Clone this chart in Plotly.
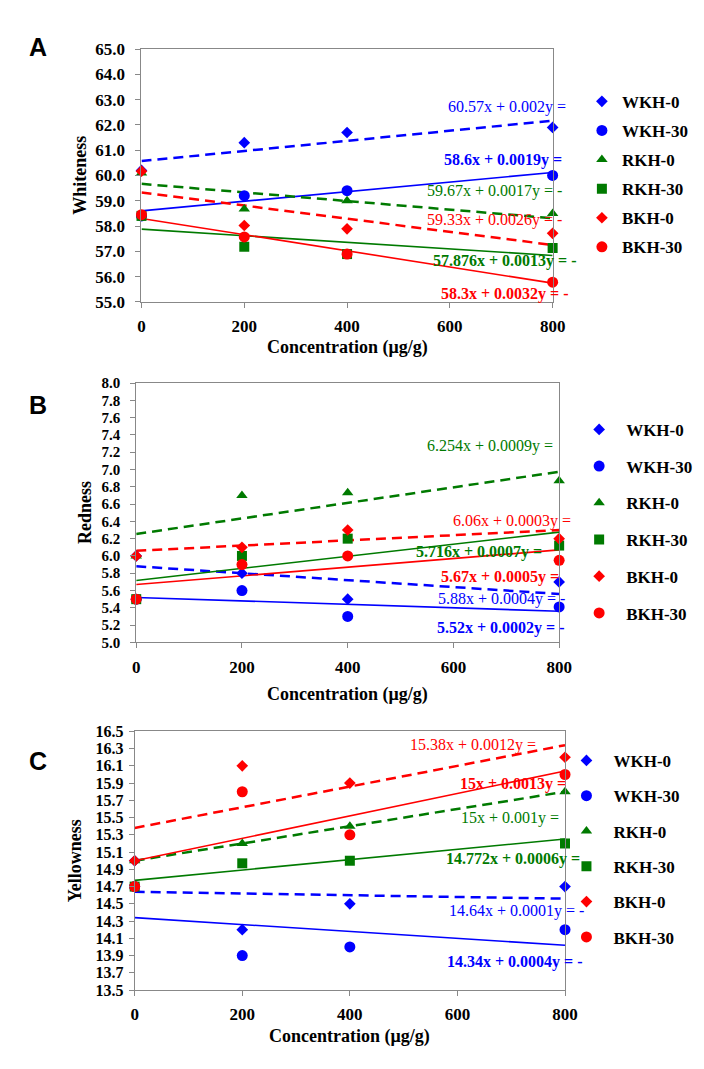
import plotly.graph_objects as go

W, H = 704, 1069

concentration = [0, 200, 400, 800]
series_names = ["WKH-0", "WKH-30", "RKH-0", "RKH-30", "BKH-0", "BKH-30"]

# Whiteness (panel A)
whiteness_wkh0 = [60.2, 61.3, 61.7, 61.9]
whiteness_wkh30 = [58.4, 59.2, 59.4, 60.0]
whiteness_rkh0 = [60.1, 58.67, 59.0, 58.5]
whiteness_rkh30 = [58.4, 57.18, 56.89, 57.13]
whiteness_bkh0 = [60.17, 58.02, 57.89, 57.71]
whiteness_bkh30 = [58.45, 57.57, 56.89, 55.78]
whiteness_intercept = [60.57, 58.6, 59.67, 57.876, 59.33, 58.3]
whiteness_slope = [0.002, 0.0019, -0.0017, -0.0013, -0.0026, -0.0032]
whiteness_eq = ["60.57x + 0.002y =", "58.6x + 0.0019y =", "59.67x + 0.0017y = -",
                "57.876x + 0.0013y = -", "59.33x + 0.0026y = -", "58.3x + 0.0032y = -"]

# Redness (panel B)
redness_wkh0 = [6.0, 5.8, 5.5, 5.7]
redness_wkh30 = [5.5, 5.6, 5.3, 5.41]
redness_rkh0 = [6.0, 6.7, 6.73, 6.87]
redness_rkh30 = [5.5, 6.0, 6.2, 6.12]
redness_bkh0 = [6.0, 6.1, 6.3, 6.2]
redness_bkh30 = [5.5, 5.9, 6.0, 5.95]
redness_intercept = [5.88, 5.52, 6.254, 5.716, 6.06, 5.67]
redness_slope = [-0.0004, -0.0002, 0.0009, 0.0007, 0.0003, 0.0005]
redness_eq = ["5.88x + 0.0004y = -", "5.52x + 0.0002y = -", "6.254x + 0.0009y =",
              "5.716x + 0.0007y =", "6.06x + 0.0003y =", "5.67x + 0.0005y ="]

# Yellowness (panel C)
yellowness_wkh0 = [15.0, 14.2, 14.5, 14.7]
yellowness_wkh30 = [14.7, 13.9, 14.0, 14.2]
yellowness_rkh0 = [15.0, 15.2, 15.4, 15.8]
yellowness_rkh30 = [14.7, 14.97, 15.0, 15.2]
yellowness_bkh0 = [15.0, 16.1, 15.9, 16.2]
yellowness_bkh30 = [14.7, 15.8, 15.3, 16.0]
yellowness_intercept = [14.64, 14.34, 15.0, 14.772, 15.38, 15.0]
yellowness_slope = [-0.0001, -0.0004, 0.001, 0.0006, 0.0012, 0.0013]
yellowness_eq = ["14.64x + 0.0001y = -", "14.34x + 0.0004y = -", "15x + 0.001y =",
                 "14.772x + 0.0006y =", "15.38x + 0.0012y =", "15x + 0.0013y ="]

BLUE, GREEN, RED = "#0000ff", "#007a00", "#ff0000"
colors = [BLUE, BLUE, GREEN, GREEN, RED, RED]
symbols = ["diamond", "circle", "triangle-up", "square", "diamond", "circle"]
msizes = [9, 11, 10, 10, 9, 11]
dashes = ["10px,6px", "solid", "10px,6px", "solid", "10px,6px", "solid"]
lwidths = [2.5, 1.6, 2.5, 1.6, 2.5, 1.6]
SERIF = "Times New Roman, Liberation Serif, serif"
SANS = "Liberation Sans, Arial, sans-serif"


def px_x(p):
    return p / W


def px_y(p):
    return 1 - p / H


panels = [
    dict(vals=[whiteness_wkh0, whiteness_wkh30, whiteness_rkh0, whiteness_rkh30, whiteness_bkh0, whiteness_bkh30],
         icpt=whiteness_intercept, slope=whiteness_slope, eq=whiteness_eq,
         box=(132.7, 554, 32.7, 290), yr=(55, 65), dt=1, title="Whiteness", letter="A",
         tick_font=17, standoff=7,
         eq_pos=[(570, 92), (566, 146), (566, 177), (581, 248), (566, 207), (573, 282)],
         ytitle_x=70, xtitle_y=336, legend=dict(x=584, y=68, gap=4, iw=30)),
    dict(vals=[redness_wkh0, redness_wkh30, redness_rkh0, redness_rkh30, redness_bkh0, redness_bkh30],
         icpt=redness_intercept, slope=redness_slope, eq=redness_eq,
         box=(127.3, 560.7, 372.7, 636.7), yr=(5, 8), dt=0.2, title="Redness", letter="B",
         tick_font=15, standoff=7,
         eq_pos=[(569, 593), (569, 622), (556, 437), (545, 545), (575, 513), (563, 570)],
         ytitle_x=75, xtitle_y=690, legend=dict(x=574, y=402, gap=11.6, iw=44)),
    dict(vals=[yellowness_wkh0, yellowness_wkh30, yellowness_rkh0, yellowness_rkh30, yellowness_bkh0, yellowness_bkh30],
         icpt=yellowness_intercept, slope=yellowness_slope, eq=yellowness_eq,
         box=(125.7, 566.7, 727.3, 990.7), yr=(13.5, 16.5), dt=0.2, title="Yellowness", letter="C",
         tick_font=16, standoff=2,
         eq_pos=[(588, 910), (587, 962), (563, 815), (584, 857), (539, 741), (570, 781)],
         ytitle_x=64, xtitle_y=1038, legend=dict(x=561, y=739, gap=10.2, iw=44)),
]

fig = go.Figure()
annotations = []
layout_axes = {}

for i, p in enumerate(panels):
    n = i + 1
    xa = "x" if n == 1 else f"x{n}"
    ya = "y" if n == 1 else f"y{n}"
    leg = "legend" if n == 1 else f"legend{n}"
    # trend lines
    for k in range(6):
        xs = [concentration[0], concentration[-1]]
        ys = [p["icpt"][k] + p["slope"][k] * x for x in xs]
        fig.add_trace(go.Scatter(x=xs, y=ys, mode="lines", xaxis=xa, yaxis=ya,
                                 line=dict(color=colors[k], width=lwidths[k], dash=dashes[k]),
                                 showlegend=False, hoverinfo="skip"))
    # markers
    for k in range(6):
        fig.add_trace(go.Scatter(x=concentration, y=p["vals"][k], mode="markers", name=series_names[k],
                                 xaxis=xa, yaxis=ya, legend=leg, legendgroup=f"{series_names[k]}-{n}",
                                 cliponaxis=False,
                                 marker=dict(symbol=symbols[k], size=msizes[k], color=colors[k],
                                             line=dict(width=0))))
    x0, x1, y0, y1 = p["box"]
    axis_common = dict(showline=True, linecolor="#888888", linewidth=1, mirror=True,
                       ticks="outside", ticklen=5, tickcolor="#888888", showgrid=False, zeroline=False)
    layout_axes["xaxis" if n == 1 else f"xaxis{n}"] = dict(
        domain=[px_x(x0), px_x(x1)], range=[0, 800], tickvals=[0, 200, 400, 600, 800],
        anchor=ya, tickfont=dict(family=SERIF, size=17, color="black", weight="bold"),
        ticklabelstandoff=4, **axis_common)
    layout_axes["yaxis" if n == 1 else f"yaxis{n}"] = dict(
        domain=[px_y(y1), px_y(y0)], range=list(p["yr"]), dtick=p["dt"], tick0=p["yr"][0],
        tickformat=".1f", anchor=xa,
        tickfont=dict(family=SERIF, size=p["tick_font"], color="black", weight="bold"),
        ticklabelstandoff=p["standoff"], **axis_common)
    lg = p["legend"]
    layout_axes[leg] = dict(x=px_x(lg["x"]), y=px_y(lg["y"]), xanchor="left", yanchor="top",
                            tracegroupgap=lg["gap"], itemwidth=lg["iw"], bgcolor="rgba(0,0,0,0)",
                            font=dict(family=SERIF, size=17, color="black", weight="bold"))
    # equation labels
    for k in range(6):
        ex, ey = p["eq_pos"][k]
        annotations.append(dict(x=px_x(ex), y=px_y(ey), xref="paper", yref="paper",
                                xanchor="right", yanchor="middle", showarrow=False, text=p["eq"][k],
                                font=dict(family=SERIF, size=16, color=colors[k],
                                          weight="bold" if k % 2 == 1 else "normal")))
    # axis titles
    annotations.append(dict(x=px_x(p["ytitle_x"]), y=px_y((y0 + y1) / 2), xref="paper", yref="paper",
                            xanchor="center", yanchor="middle", showarrow=False, textangle=-90,
                            text=p["title"], font=dict(family=SERIF, size=18, color="black", weight="bold")))
    annotations.append(dict(x=px_x((x0 + x1) / 2), y=px_y(p["xtitle_y"]), xref="paper", yref="paper",
                            xanchor="center", yanchor="middle", showarrow=False,
                            text="Concentration (μg/g)",
                            font=dict(family=SERIF, size=18, color="black", weight="bold")))
    # panel letter
    annotations.append(dict(x=px_x(27), y=px_y(31 if n == 1 else (395 if n == 2 else 757)),
                            xref="paper", yref="paper", xanchor="center", yanchor="middle",
                            showarrow=False, text=p["letter"],
                            font=dict(family=SANS, size=25, color="black", weight="bold")))

fig.update_layout(width=W, height=H, margin=dict(l=0, r=0, t=0, b=0),
                  paper_bgcolor="white", plot_bgcolor="white",
                  annotations=annotations, **layout_axes)

fig.write_html("out.html")
